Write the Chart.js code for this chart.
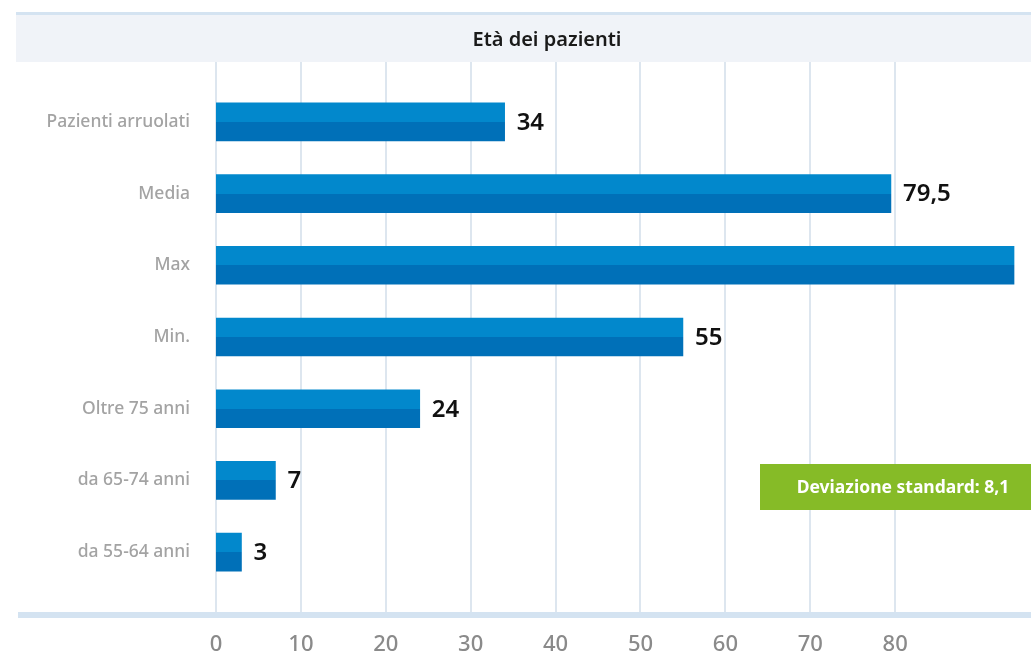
<!DOCTYPE html>
<html><head><meta charset="utf-8">
<script src="https://cdn.jsdelivr.net/npm/chart.js@4.4.1/dist/chart.umd.min.js"></script>
<style>html,body{margin:0;padding:0;background:#fff}#wrap{width:1031px;height:658px}</style>
</head><body><div id="wrap"><canvas id="c" width="1031" height="658"></canvas></div>
<script>
const categories = ['Pazienti arruolati','Media','Max','Min.','Oltre 75 anni','da 65-74 anni','da 55-64 anni'];
const values = [34, 79.5, 94, 55, 24, 7, 3];
const tickValues = [0,10,20,30,40,50,60,70,80];
const chartTitle = 'Età dei pazienti';
const noteText = 'Deviazione standard: 8,1';
const FONT = '"Noto Sans", "Open Sans", sans-serif';

const fmt = v => String(v).replace('.', ',');

const decor = {
  id: 'decor',
  beforeDraw(chart) {
    const ctx = chart.ctx;
    ctx.save();
    ctx.fillStyle = '#f0f3f8';
    ctx.fillRect(16, 14, 1015, 48);
    ctx.fillStyle = '#d4e3f1';
    ctx.fillRect(16, 12, 1015, 3);
    ctx.fillStyle = '#1a1a1a';
    ctx.font = '600 20px ' + FONT;
    ctx.textAlign = 'center';
    ctx.textBaseline = 'middle';
    ctx.fillText(chartTitle, 547, 40);
    // gridlines
    const xs = chart.scales.x;
    ctx.strokeStyle = '#dde6ef';
    ctx.lineWidth = 2;
    tickValues.forEach(v => {
      const px = Math.round(xs.getPixelForValue(v));
      ctx.beginPath(); ctx.moveTo(px, 62); ctx.lineTo(px, 612); ctx.stroke();
    });
    ctx.fillStyle = '#d4e3f1';
    ctx.fillRect(18, 612, 1013, 6);
    ctx.restore();
  },
  afterDatasetsDraw(chart) {
    const ctx = chart.ctx;
    ctx.save();
    ctx.font = '600 24px ' + FONT;
    ctx.fillStyle = '#111';
    ctx.textAlign = 'left';
    ctx.textBaseline = 'middle';
    chart.getDatasetMeta(0).data.forEach((el, i) => {
      const tx = el.x + 12;
      if (tx + 20 < chart.width) ctx.fillText(fmt(values[i]), tx, el.y + 1);
    });
    // note box
    ctx.fillStyle = '#86bb27';
    ctx.fillRect(760, 464, 271, 46);
    ctx.fillStyle = '#ffffff';
    ctx.font = '700 17.5px ' + FONT;
    ctx.textAlign = 'center';
    ctx.fillText(noteText, 903, 488);
    ctx.restore();
  }
};

new Chart(document.getElementById('c'), {
  type: 'bar',
  data: {
    labels: categories,
    datasets: [{
      data: values,
      barThickness: 38,
      borderWidth: 0,
      backgroundColor: (c) => {
        const chart = c.chart;
        if (!chart.chartArea || !chart.scales.y) return '#0288cc';
        const y = chart.scales.y.getPixelForValue(c.dataIndex);
        const g = chart.ctx.createLinearGradient(0, y - 19, 0, y + 19);
        g.addColorStop(0, '#0288cc'); g.addColorStop(0.5, '#0288cc');
        g.addColorStop(0.5, '#0070b8'); g.addColorStop(1, '#0070b8');
        return g;
      }
    }]
  },
  options: {
    indexAxis: 'y',
    responsive: false,
    animation: false,
    layout: { padding: { top: 86, left: 0, right: 0, bottom: 0 } },
    plugins: { legend: { display: false }, tooltip: { enabled: false }, title: { display: false } },
    scales: {
      x: {
        min: 0, max: 96,
        grid: { display: false, drawTicks: false },
        border: { display: false },
        afterFit: s => { s.height = 70; },
        afterBuildTicks: s => { s.ticks = tickValues.map(v => ({ value: v })); },
        ticks: { padding: 44, color: '#8a8a8a', font: { family: FONT, size: 22, weight: '500' } }
      },
      y: {
        grid: { display: false, drawTicks: false },
        border: { display: false },
        afterFit: s => { s.width = 216; },
        ticks: { padding: 26, color: '#a3a3a3', font: { family: FONT, size: 17.5, weight: '500' } }
      }
    }
  },
  plugins: [decor]
});
</script></body></html>
